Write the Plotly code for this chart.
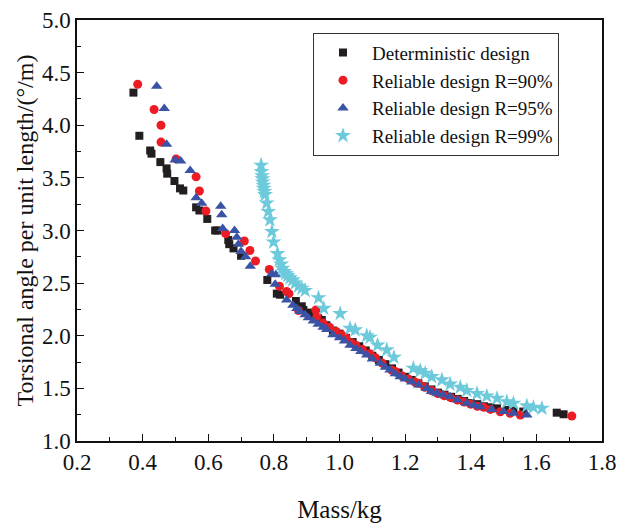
import plotly.graph_objects as go

# Deterministic design
det_x = [0.372, 0.390, 0.423, 0.427, 0.454, 0.473, 0.475, 0.497, 0.514, 0.524, 0.563, 0.573, 0.597,
         0.621, 0.628, 0.661, 0.664, 0.677, 0.700, 0.780, 0.809, 0.819, 0.867, 0.885, 0.890, 0.905,
         0.920, 0.935, 0.946, 0.96, 0.98, 1.00, 1.02, 1.04, 1.06, 1.08, 1.10, 1.12, 1.14, 1.16, 1.18,
         1.20, 1.22, 1.24, 1.26, 1.28, 1.30, 1.32, 1.34, 1.36, 1.38, 1.40, 1.42, 1.44, 1.46, 1.48,
         1.51, 1.53, 1.56, 1.662, 1.683]
det_y = [4.31, 3.90, 3.76, 3.73, 3.65, 3.59, 3.54, 3.47, 3.40, 3.38, 3.22, 3.19, 3.11,
         3.00, 3.00, 2.91, 2.87, 2.83, 2.76, 2.53, 2.40, 2.39, 2.33, 2.28, 2.245, 2.22,
         2.19, 2.165, 2.15, 2.10, 2.05, 2.02, 1.98, 1.94, 1.90, 1.86, 1.81, 1.77, 1.73, 1.69, 1.65,
         1.61, 1.58, 1.55, 1.52, 1.49, 1.46, 1.44, 1.42, 1.40, 1.38, 1.36, 1.35, 1.33, 1.32, 1.31,
         1.295, 1.29, 1.28, 1.269, 1.254]

# Reliable design R=90%
r90_x = [0.385, 0.435, 0.456, 0.456, 0.502, 0.563, 0.573, 0.593, 0.653, 0.710, 0.727, 0.744, 0.786,
         0.817, 0.839, 0.846, 0.875, 0.928, 0.931, 0.95, 0.97, 0.99, 1.007, 1.02, 1.037, 1.05, 1.07,
         1.093, 1.11, 1.13, 1.159, 1.17, 1.19, 1.21, 1.23, 1.241, 1.26, 1.28, 1.30, 1.32, 1.34, 1.36,
         1.38, 1.40, 1.42, 1.44, 1.46, 1.49, 1.52, 1.551, 1.708]
r90_y = [4.39, 4.15, 4.00, 3.84, 3.68, 3.51, 3.375, 3.185, 2.97, 2.90, 2.81, 2.71, 2.63,
         2.47, 2.42, 2.40, 2.24, 2.245, 2.18, 2.12, 2.08, 2.04, 2.007, 1.98, 1.93, 1.91, 1.87,
         1.83, 1.79, 1.74, 1.675, 1.66, 1.62, 1.59, 1.56, 1.548, 1.51, 1.48, 1.45, 1.43, 1.41, 1.39,
         1.37, 1.35, 1.33, 1.32, 1.30, 1.278, 1.263, 1.247, 1.238]

# Reliable design R=95%
r95_x = [0.443, 0.466, 0.473, 0.499, 0.516, 0.545, 0.563, 0.580, 0.638, 0.641, 0.644, 0.680, 0.687,
         0.692, 0.700, 0.714, 0.728, 0.794, 0.806, 0.804, 0.839, 0.858, 0.870, 0.880, 0.895, 0.905,
         0.92, 0.935, 0.95, 0.961, 0.98, 1.00, 1.015, 1.032, 1.05, 1.065, 1.083, 1.10, 1.124, 1.14,
         1.154, 1.17, 1.185, 1.20, 1.22, 1.241, 1.266, 1.28, 1.297, 1.315, 1.337, 1.36, 1.388, 1.41,
         1.429, 1.464, 1.50, 1.530, 1.571]
r95_y = [4.37, 4.16, 3.82, 3.67, 3.66, 3.57, 3.31, 3.26, 3.23, 3.15, 3.02, 3.00, 2.935,
         2.87, 2.80, 2.75, 2.66, 2.59, 2.58, 2.49, 2.34, 2.29, 2.26, 2.23, 2.20, 2.17,
         2.14, 2.11, 2.08, 2.06, 2.01, 1.98, 1.95, 1.91, 1.88, 1.85, 1.817, 1.78, 1.738, 1.70,
         1.675, 1.64, 1.611, 1.59, 1.56, 1.532, 1.50, 1.47, 1.453, 1.44, 1.421, 1.39, 1.358, 1.34,
         1.326, 1.30, 1.28, 1.263, 1.247]

# Reliable design R=99%
r99_x = [0.761, 0.762, 0.764, 0.765, 0.766, 0.768, 0.769, 0.771, 0.773, 0.778, 0.783, 0.788, 0.794,
         0.799, 0.811, 0.817, 0.822, 0.826, 0.831, 0.836, 0.842, 0.849, 0.857, 0.865, 0.875, 0.885,
         0.895, 0.936, 0.952, 1.002, 1.032, 1.048, 1.083, 1.093, 1.116, 1.144, 1.166, 1.225, 1.246,
         1.261, 1.281, 1.312, 1.337, 1.368, 1.388, 1.419, 1.449, 1.480, 1.510, 1.530, 1.571, 1.591,
         1.617]
r99_y = [3.62, 3.56, 3.52, 3.49, 3.46, 3.43, 3.40, 3.37, 3.34, 3.26, 3.18, 3.10, 2.99,
         2.89, 2.78, 2.72, 2.68, 2.64, 2.61, 2.59, 2.57, 2.55, 2.53, 2.50, 2.47, 2.45,
         2.43, 2.36, 2.26, 2.21, 2.07, 2.055, 2.00, 1.985, 1.91, 1.865, 1.795, 1.69, 1.668,
         1.643, 1.611, 1.58, 1.54, 1.51, 1.48, 1.45, 1.427, 1.405, 1.373, 1.358, 1.333, 1.32,
         1.31]

x_ticks = [0.2, 0.4, 0.6, 0.8, 1.0, 1.2, 1.4, 1.6, 1.8]
y_ticks = [1.0, 1.5, 2.0, 2.5, 3.0, 3.5, 4.0, 4.5, 5.0]

FONT = "Liberation Serif, Times New Roman, serif"

fig = go.Figure()
fig.add_trace(go.Scatter(x=det_x, y=det_y, mode="markers", name="Deterministic design",
                         marker=dict(symbol="square", size=8, color="#231f20")))
fig.add_trace(go.Scatter(x=r90_x, y=r90_y, mode="markers", name="Reliable design R=90%",
                         marker=dict(symbol="circle", size=9, color="#ed1c24")))
fig.add_trace(go.Scatter(x=r95_x, y=r95_y, mode="markers", name="Reliable design R=95%",
                         marker=dict(symbol="triangle-up", size=10, color="#3a53a4")))
fig.add_trace(go.Scatter(x=r99_x, y=r99_y, mode="markers", name="Reliable design R=99%",
                         marker=dict(symbol="star", size=12, color="#6ccadb")))

axis_common = dict(
    showgrid=False, zeroline=False, showline=True, linecolor="#111", linewidth=1.5,
    mirror=True, ticks="inside", ticklen=7, tickwidth=1.2, tickcolor="#111",
    tickfont=dict(family=FONT, size=23, color="#111"), automargin=False,
)

fig.update_xaxes(range=[0.2, 1.8], tickvals=x_ticks, ticktext=[f"{v:.1f}" for v in x_ticks],
                 minor=dict(ticks="inside", ticklen=4, dtick=0.1, tickcolor="#111", tickwidth=1),
                 title=dict(text="Mass/kg", font=dict(family=FONT, size=25, color="#111"), standoff=26),
                 **axis_common)
fig.update_yaxes(range=[1.0, 5.0], tickvals=y_ticks, ticktext=[f"{v:.1f}" for v in y_ticks],
                 minor=dict(ticks="inside", ticklen=4, dtick=0.25, tickcolor="#111", tickwidth=1),
                 title=dict(text="Torsional angle per unit length/(°/m)",
                            font=dict(family=FONT, size=24, color="#111"), standoff=2),
                 **axis_common)

fig.update_layout(
    width=619, height=523,
    margin=dict(l=77, r=17, t=20, b=82),
    paper_bgcolor="white", plot_bgcolor="white",
    showlegend=True,
    legend=dict(x=0.4495, y=0.97, xanchor="left", yanchor="top",
                bordercolor="#333", borderwidth=1, bgcolor="white",
                font=dict(family=FONT, size=19, color="#111"),
                itemwidth=48, tracegroupgap=0),
)

fig.write_html("out.html")
